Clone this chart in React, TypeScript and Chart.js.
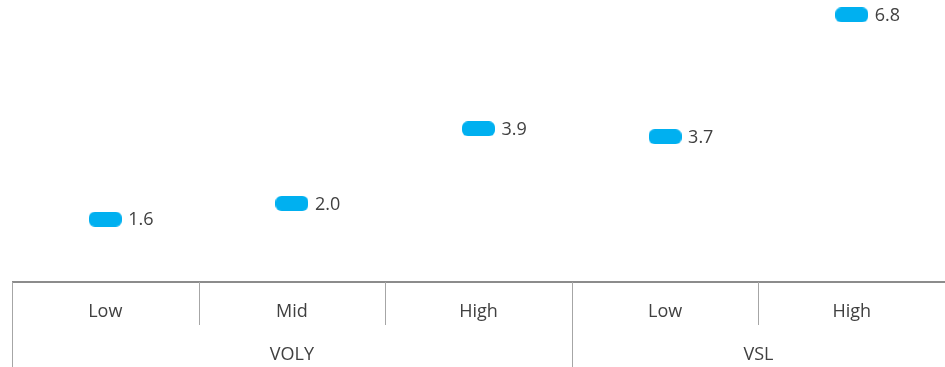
import React, { useEffect, useRef } from "react";
import { Chart, registerables } from "chart.js";

Chart.register(...registerables);

const categories = ["Low", "Mid", "High", "Low", "High"];
const groups = ["VOLY", "VOLY", "VOLY", "VSL", "VSL"];
const values = [1.6, 2.0, 3.9, 3.7, 6.8];
const yMin = 0;
const yMax = 7;

const MARKER_COLOR = "#00B0F0";
const TEXT_COLOR = "#404040";
const FONT = "'Open Sans', 'Liberation Sans', sans-serif";

function makeMarker(): HTMLCanvasElement {
  const w = 33, h = 15, r = 6;
  const c = document.createElement("canvas");
  c.width = w;
  c.height = h;
  const ctx = c.getContext("2d")!;
  ctx.fillStyle = MARKER_COLOR;
  ctx.beginPath();
  ctx.moveTo(r, 0);
  ctx.lineTo(w - r, 0);
  ctx.arcTo(w, 0, w, r, r);
  ctx.lineTo(w, h - r);
  ctx.arcTo(w, h, w - r, h, r);
  ctx.lineTo(r, h);
  ctx.arcTo(0, h, 0, h - r, r);
  ctx.lineTo(0, r);
  ctx.arcTo(0, 0, r, 0, r);
  ctx.closePath();
  ctx.fill();
  return c;
}

const axisPlugin = {
  id: "customAxis",
  afterDraw(chart: any) {
    const { ctx, chartArea, scales } = chart;
    const x = scales.x;
    const bottom = chartArea.bottom;
    const H = chart.height;
    const n = categories.length;
    const step = (chartArea.right - chartArea.left) / n;
    ctx.save();
    // value labels
    const meta = chart.getDatasetMeta(0);
    ctx.font = `18px ${FONT}`;
    ctx.fillStyle = TEXT_COLOR;
    ctx.textAlign = "left";
    ctx.textBaseline = "middle";
    meta.data.forEach((pt: any, i: number) => {
      ctx.fillText(values[i].toFixed(1), pt.x + 23, pt.y + 1);
    });
    // axis line
    ctx.strokeStyle = "#8c8c8c";
    ctx.lineWidth = 2;
    ctx.beginPath();
    ctx.moveTo(chartArea.left, bottom);
    ctx.lineTo(chartArea.right, bottom);
    ctx.stroke();
    // separators
    ctx.strokeStyle = "#a6a6a6";
    ctx.lineWidth = 1;
    for (let i = 0; i < n; i++) {
      const px = Math.round(x.getPixelForValue(i) - step / 2) + 0.5;
      const isGroupEdge = i === 0 || groups[i] !== groups[i - 1];
      ctx.beginPath();
      ctx.moveTo(px, bottom);
      ctx.lineTo(px, isGroupEdge ? H : bottom + 43);
      ctx.stroke();
    }
    // tick labels
    ctx.fillStyle = TEXT_COLOR;
    ctx.textAlign = "center";
    ctx.textBaseline = "middle";
    ctx.font = `18px ${FONT}`;
    categories.forEach((c, i) => {
      ctx.fillText(c, x.getPixelForValue(i), bottom + 30);
    });
    // group labels
    let start = 0;
    for (let i = 1; i <= n; i++) {
      if (i === n || groups[i] !== groups[start]) {
        const l = x.getPixelForValue(start) - step / 2;
        const r = x.getPixelForValue(i - 1) + step / 2;
        ctx.fillText(groups[start], (l + r) / 2, bottom + 73);
        start = i;
      }
    }
    ctx.restore();
  },
};

export default function App() {
  const ref = useRef<HTMLCanvasElement>(null);
  useEffect(() => {
    document.body.style.margin = "0";
    const chart = new Chart(ref.current!, {
      type: "line",
      data: {
        labels: categories,
        datasets: [
          {
            data: values,
            showLine: false,
            pointStyle: makeMarker() as any,
            pointRadius: 7,
            pointHoverRadius: 7,
          },
        ],
      },
      options: {
        responsive: false,
        animation: false,
        layout: { autoPadding: false, padding: { left: 12, right: 0, top: 7, bottom: 85 } },
        plugins: { legend: { display: false }, tooltip: { enabled: false } },
        scales: {
          x: { display: false, offset: true },
          y: { display: false, min: yMin, max: yMax },
        },
      },
      plugins: [axisPlugin],
    });
    return () => chart.destroy();
  }, []);
  return (
    <div style={{ width: 945, height: 367 }}>
      <canvas ref={ref} width={945} height={367} />
    </div>
  );
}
